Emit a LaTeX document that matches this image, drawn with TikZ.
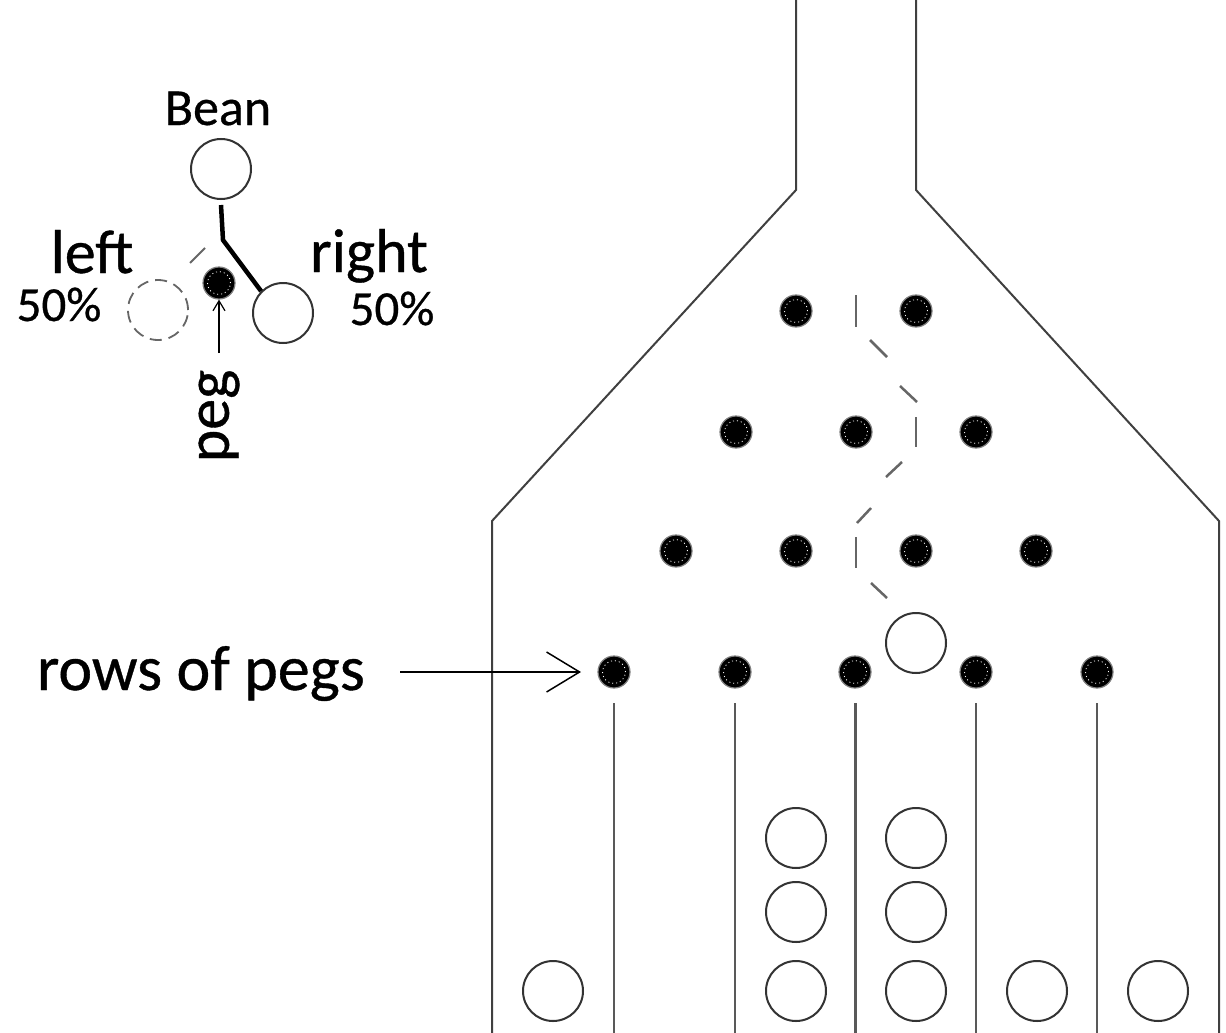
\documentclass[tikz,border=0pt]{standalone}
\usepackage{fontspec}
\setmainfont{Carlito}[FakeBold=0.6]
\usetikzlibrary{arrows.meta}
\tikzset{
  pegnode/.style={circle, minimum size=32pt, inner sep=0pt, fill=black, draw=black!50, line width=1.2pt,
    path picture={\draw[white, line width=0.8pt, dash pattern=on 1pt off 3pt] (path picture bounding box.center) circle (11.5pt);}},
  beannode/.style={circle, minimum size=60pt, inner sep=0pt, draw=black!80, line width=2pt},
  ghostbean/.style={circle, minimum size=60pt, inner sep=0pt, draw=black!60, line width=1.8pt, dash pattern=on 12pt off 7pt},
  wall/.style={draw=black!75, line width=2pt},
  divider/.style={draw=black!65, line width=2pt},
  trail/.style={draw=black!60, line width=2.5pt},
  lbl/.style={inner sep=0pt, anchor=base, text=black}
}
\begin{document}
\begin{tikzpicture}[x=1pt, y=-1pt]
\useasboundingbox (0,0) rectangle (1226,1033);
\fill[white] (0,0) rectangle (1226,1033);

% funnel walls
\coordinate (wl0) at (796,0);
\coordinate (wl1) at (796,190);
\coordinate (wl2) at (492,521);
\coordinate (wl3) at (492,1033);
\coordinate (wr0) at (916,0);
\coordinate (wr1) at (916,190);
\coordinate (wr2) at (1219,521);
\coordinate (wr3) at (1219,1033);
\draw[wall] (wl0) -- (wl1) -- (wl2) -- (wl3);
\draw[wall] (wr0) -- (wr1) -- (wr2) -- (wr3);

% pegs
\node[pegnode] (p11) at (796,311) {};
\node[pegnode] (p12) at (916,311) {};
\node[pegnode] (p21) at (736,432) {};
\node[pegnode] (p22) at (856,432) {};
\node[pegnode] (p23) at (976,432) {};
\node[pegnode] (p31) at (676,551) {};
\node[pegnode] (p32) at (796,551) {};
\node[pegnode] (p33) at (916,551) {};
\node[pegnode] (p34) at (1036,551) {};
\node[pegnode] (p41) at (614,672) {};
\node[pegnode] (p42) at (735,672) {};
\node[pegnode] (p43) at (855,672) {};
\node[pegnode] (p44) at (976,672) {};
\node[pegnode] (p45) at (1097,672) {};

% bin dividers
\coordinate (d1a) at (614,703); \coordinate (d1b) at (614,1033);
\coordinate (d2a) at (735,703); \coordinate (d2b) at (735,1033);
\coordinate (d3a) at (855,703); \coordinate (d3b) at (855,1033);
\coordinate (d4a) at (976,703); \coordinate (d4b) at (976,1033);
\coordinate (d5a) at (1097,703); \coordinate (d5b) at (1097,1033);
\draw[divider] (d1a) -- (d1b);
\draw[divider] (d2a) -- (d2b);
\draw[divider, line width=3pt] (d3a) -- (d3b);
\draw[divider] (d4a) -- (d4b);
\draw[divider] (d5a) -- (d5b);

% beans
\node[beannode] (bfall) at (916,643) {};
\node[beannode] (b1) at (553,991) {};
\node[beannode] (b31) at (796,991) {};
\node[beannode] (b32) at (796,912) {};
\node[beannode] (b33) at (796,838) {};
\node[beannode] (b41) at (916,991) {};
\node[beannode] (b42) at (916,912) {};
\node[beannode] (b43) at (916,838) {};
\node[beannode] (b5) at (1037,991) {};
\node[beannode] (b6) at (1158,991) {};

% bean trail (dashed)
\coordinate (t1a) at (856,295); \coordinate (t1b) at (856,327);
\coordinate (t2a) at (870,340); \coordinate (t2b) at (887,357);
\coordinate (t3a) at (900,386); \coordinate (t3b) at (917,402);
\coordinate (t4a) at (916,417); \coordinate (t4b) at (916,447);
\coordinate (t5a) at (902,462); \coordinate (t5b) at (886,477);
\coordinate (t6a) at (871,508); \coordinate (t6b) at (857,523);
\coordinate (t7a) at (856,537); \coordinate (t7b) at (856,568);
\coordinate (t8a) at (871,583); \coordinate (t8b) at (887,598);
\draw[trail] (t1a) -- (t1b);
\draw[trail] (t2a) -- (t2b);
\draw[trail] (t3a) -- (t3b);
\draw[trail] (t4a) -- (t4b);
\draw[trail] (t5a) -- (t5b);
\draw[trail] (t6a) -- (t6b);
\draw[trail] (t7a) -- (t7b);
\draw[trail] (t8a) -- (t8b);

% rows of pegs label
\node[lbl, font=\fontsize{64}{72}\selectfont] (rows) at (201,690) {rows of pegs};
\coordinate (ra) at (400,672);
\coordinate (rb) at (581,672);
\draw[line width=1.5pt, -{Straight Barb[length=33pt,width=40pt,line width=1.5pt]}] (ra) -- (rb);

% legend
\node[lbl, font=\fontsize{52}{60}\selectfont] (bean) at (218,125) {Bean};
\node[beannode] (lb) at (221,169) {};
\node[ghostbean] (lleft) at (158,310) {};
\node[beannode] (lright) at (283,313) {};
\node[pegnode] (lpeg) at (219,283) {};
\coordinate (lj) at (223,240);
\coordinate (ls) at (221,205);
\coordinate (lg) at (205,248);
\coordinate (lh) at (190,263);
\draw[line width=4.5pt, black] (ls) -- (lj) -- (lright.north west);
\draw[trail, line width=2pt] (lg) -- (lh);

\node[lbl, font=\fontsize{62}{70}\selectfont] (left) at (92,273) {left};
\node[lbl, font=\fontsize{62}{70}\selectfont] (right) at (369,272) {right};
\node[lbl, font=\fontsize{49}{56}\selectfont] (pl) at (59,321) {50\%};
\node[lbl, font=\fontsize{49}{56}\selectfont] (pr) at (392,325) {50\%};

\node[inner sep=0pt, rotate=90, font=\fontsize{62}{70}\selectfont] (pegtxt) at (219,416) {peg};
\coordinate (pa) at (219,353);
\draw[line width=1.2pt, -{Straight Barb[length=10pt,width=12pt,line width=1.2pt]}] (pa) -- (lpeg.south);
\end{tikzpicture}
\end{document}
